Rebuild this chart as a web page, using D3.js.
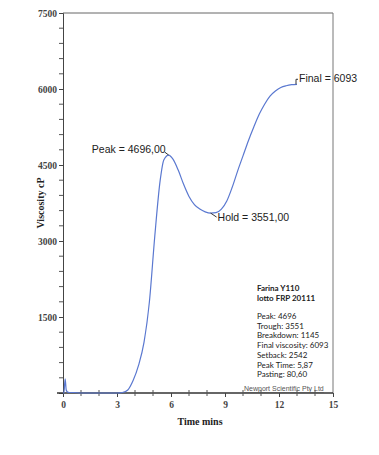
<!DOCTYPE html>
<html><head><meta charset="utf-8">
<script src="https://cdn.jsdelivr.net/npm/d3@7"></script>
<style>body{margin:0;background:#fff}svg{display:block}</style>
</head><body>
<script>
const timeMins = [0,0.05,0.12,0.18,0.25,0.35,0.6,1,2,3,3.3,3.6,3.9,4.2,4.5,4.8,5.1,5.4,5.6,5.87,6.1,6.4,6.7,7.0,7.3,7.6,7.9,8.2,8.5,8.8,9.1,9.4,9.7,10,10.3,10.6,10.9,11.2,11.5,11.8,12.1,12.4,12.7,13.0];
const viscosity = [0,0,280,60,20,10,10,0,0,0,10,60,250,550,1000,1800,3100,4200,4600,4696,4620,4400,4120,3880,3720,3630,3575,3551,3560,3630,3790,4060,4380,4680,4980,5250,5500,5700,5860,5960,6030,6065,6085,6093];
const yTicks = [1500,3000,4500,6000,7500];
const xTicks = [0,3,6,9,12,15];
const annotations = [
  {t:5.87, v:4696, label:"Peak = 4696,00"},
  {t:8.2, v:3551, label:"Hold = 3551,00"},
  {t:13.0, v:6093, label:"Final = 6093"}
];
const infoTitle = ["Farina Y110","lotto FRP 20111"];
const infoLines = ["Peak: 4696","Trough: 3551","Breakdown: 1145","Final viscosity: 6093","Setback: 2542","Peak Time: 5,87","Pasting: 80,60"];
const credit = "Newport Scientific Pty Ltd";

const W=379,H=455;
const svg=d3.select("body").append("svg").attr("width",W).attr("height",H);
const x=d3.scaleLinear().domain([0,15]).range([63,333]);
const y=d3.scaleLinear().domain([0,7500]).range([393,13]);
const serif="'Liberation Serif','DejaVu Serif',serif";
const sans="'Liberation Sans',Arial,sans-serif";

// frame
svg.append("line").attr("x1",x(0)).attr("x2",x(15)).attr("y1",y(7500)).attr("y2",y(7500)).attr("stroke","#666").attr("stroke-width",1);
svg.append("line").attr("x1",x(15)).attr("x2",x(15)).attr("y1",y(7500)).attr("y2",y(0)).attr("stroke","#777").attr("stroke-width",1);

// y axis
const yAxis=d3.axisLeft(y).tickValues(yTicks).tickSize(4).tickPadding(2).tickFormat(d3.format("d"));
const gy=svg.append("g").attr("transform",`translate(${x(0)},0)`).call(yAxis);
gy.select(".domain").attr("stroke","#444");
gy.selectAll("line").attr("stroke","#444");
gy.selectAll("text").attr("font-family",serif).attr("font-size",9.5).attr("font-weight","bold").attr("fill","#444");
const yMinor=d3.range(300,7500,300).filter(v=>v%1500!==0);
svg.append("g").selectAll("line").data(yMinor).join("line")
  .attr("x1",x(0)-4).attr("x2",x(0)).attr("y1",d=>y(d)).attr("y2",d=>y(d)).attr("stroke","#555");

// x axis
const xAxis=d3.axisBottom(x).tickValues(xTicks).tickSize(4).tickPadding(4).tickFormat(d3.format("d"));
const gx=svg.append("g").attr("transform",`translate(0,${y(0)})`).call(xAxis);
gx.select(".domain").attr("stroke","#333").attr("stroke-width",1.3).attr("d",`M${x(0)-6},0H${x(15)}`);
gx.selectAll("line").attr("stroke","#444");
gx.selectAll("text").attr("font-family",serif).attr("font-size",9.5).attr("font-weight","bold").attr("fill","#444");
const xMinor=d3.range(1,15,1).filter(v=>v%3!==0);
svg.append("g").selectAll("line").data(xMinor).join("line")
  .attr("x1",d=>x(d)).attr("x2",d=>x(d)).attr("y1",y(0)-3).attr("y2",y(0)+3).attr("stroke","#555");

// labels
svg.append("text").attr("transform",`translate(44,${y(3750)}) rotate(-90)`).attr("text-anchor","middle")
  .attr("font-family",serif).attr("font-size",10).attr("font-weight","bold").attr("fill","#222").text("Viscosity cP");
svg.append("text").attr("x",200).attr("y",425).attr("text-anchor","middle")
  .attr("font-family",serif).attr("font-size",10).attr("font-weight","bold").attr("fill","#222").text("Time mins");

// curve
const line=d3.line().x((d,i)=>x(timeMins[i])).y(d=>y(d)).curve(d3.curveMonotoneX);
svg.append("path").attr("d",line(viscosity)).attr("fill","none").attr("stroke","#5a78d0").attr("stroke-width",1.2);

// annotations
const fs=10.5;
const a0=annotations[0];
svg.append("line").attr("x1",x(a0.t)-4).attr("y1",y(a0.v)-3).attr("x2",x(a0.t)).attr("y2",y(a0.v)).attr("stroke","#333");
svg.append("text").attr("x",x(a0.t)-3).attr("y",y(a0.v)-2).attr("text-anchor","end")
  .attr("font-family",sans).attr("font-size",fs).attr("fill","#222").text(a0.label);
const a1=annotations[1];
svg.append("line").attr("x1",x(a1.t)).attr("y1",y(a1.v)).attr("x2",x(a1.t)+6).attr("y2",y(a1.v)+4).attr("stroke","#333");
svg.append("text").attr("x",x(a1.t)+7).attr("y",y(a1.v)+8).attr("font-family",sans).attr("font-size",fs).attr("fill","#222").text(a1.label);
const a2=annotations[2];
svg.append("path").attr("d",`M${x(a2.t)-1},${y(a2.v)}V${y(a2.v)-5}H${x(a2.t)+1}`).attr("fill","none").attr("stroke","#333");
svg.append("text").attr("x",x(a2.t)+2).attr("y",y(a2.v)-2).attr("font-family",sans).attr("font-size",fs).attr("fill","#222").text(a2.label);

// info box
const info=svg.append("g").attr("font-family","Lato,'Open Sans',sans-serif").attr("fill","#222");
infoTitle.forEach((s,i)=>info.append("text").attr("x",257).attr("y",291+i*10).attr("font-size",8).attr("font-weight","bold").text(s));
infoLines.forEach((s,i)=>info.append("text").attr("x",257).attr("y",319+i*9.7).attr("font-size",8).text(s));
svg.append("text").attr("x",244).attr("y",391).attr("font-family",sans).attr("font-size",7).attr("fill","#555")
  .attr("text-decoration","underline").text(credit);
</script>
</body></html>
